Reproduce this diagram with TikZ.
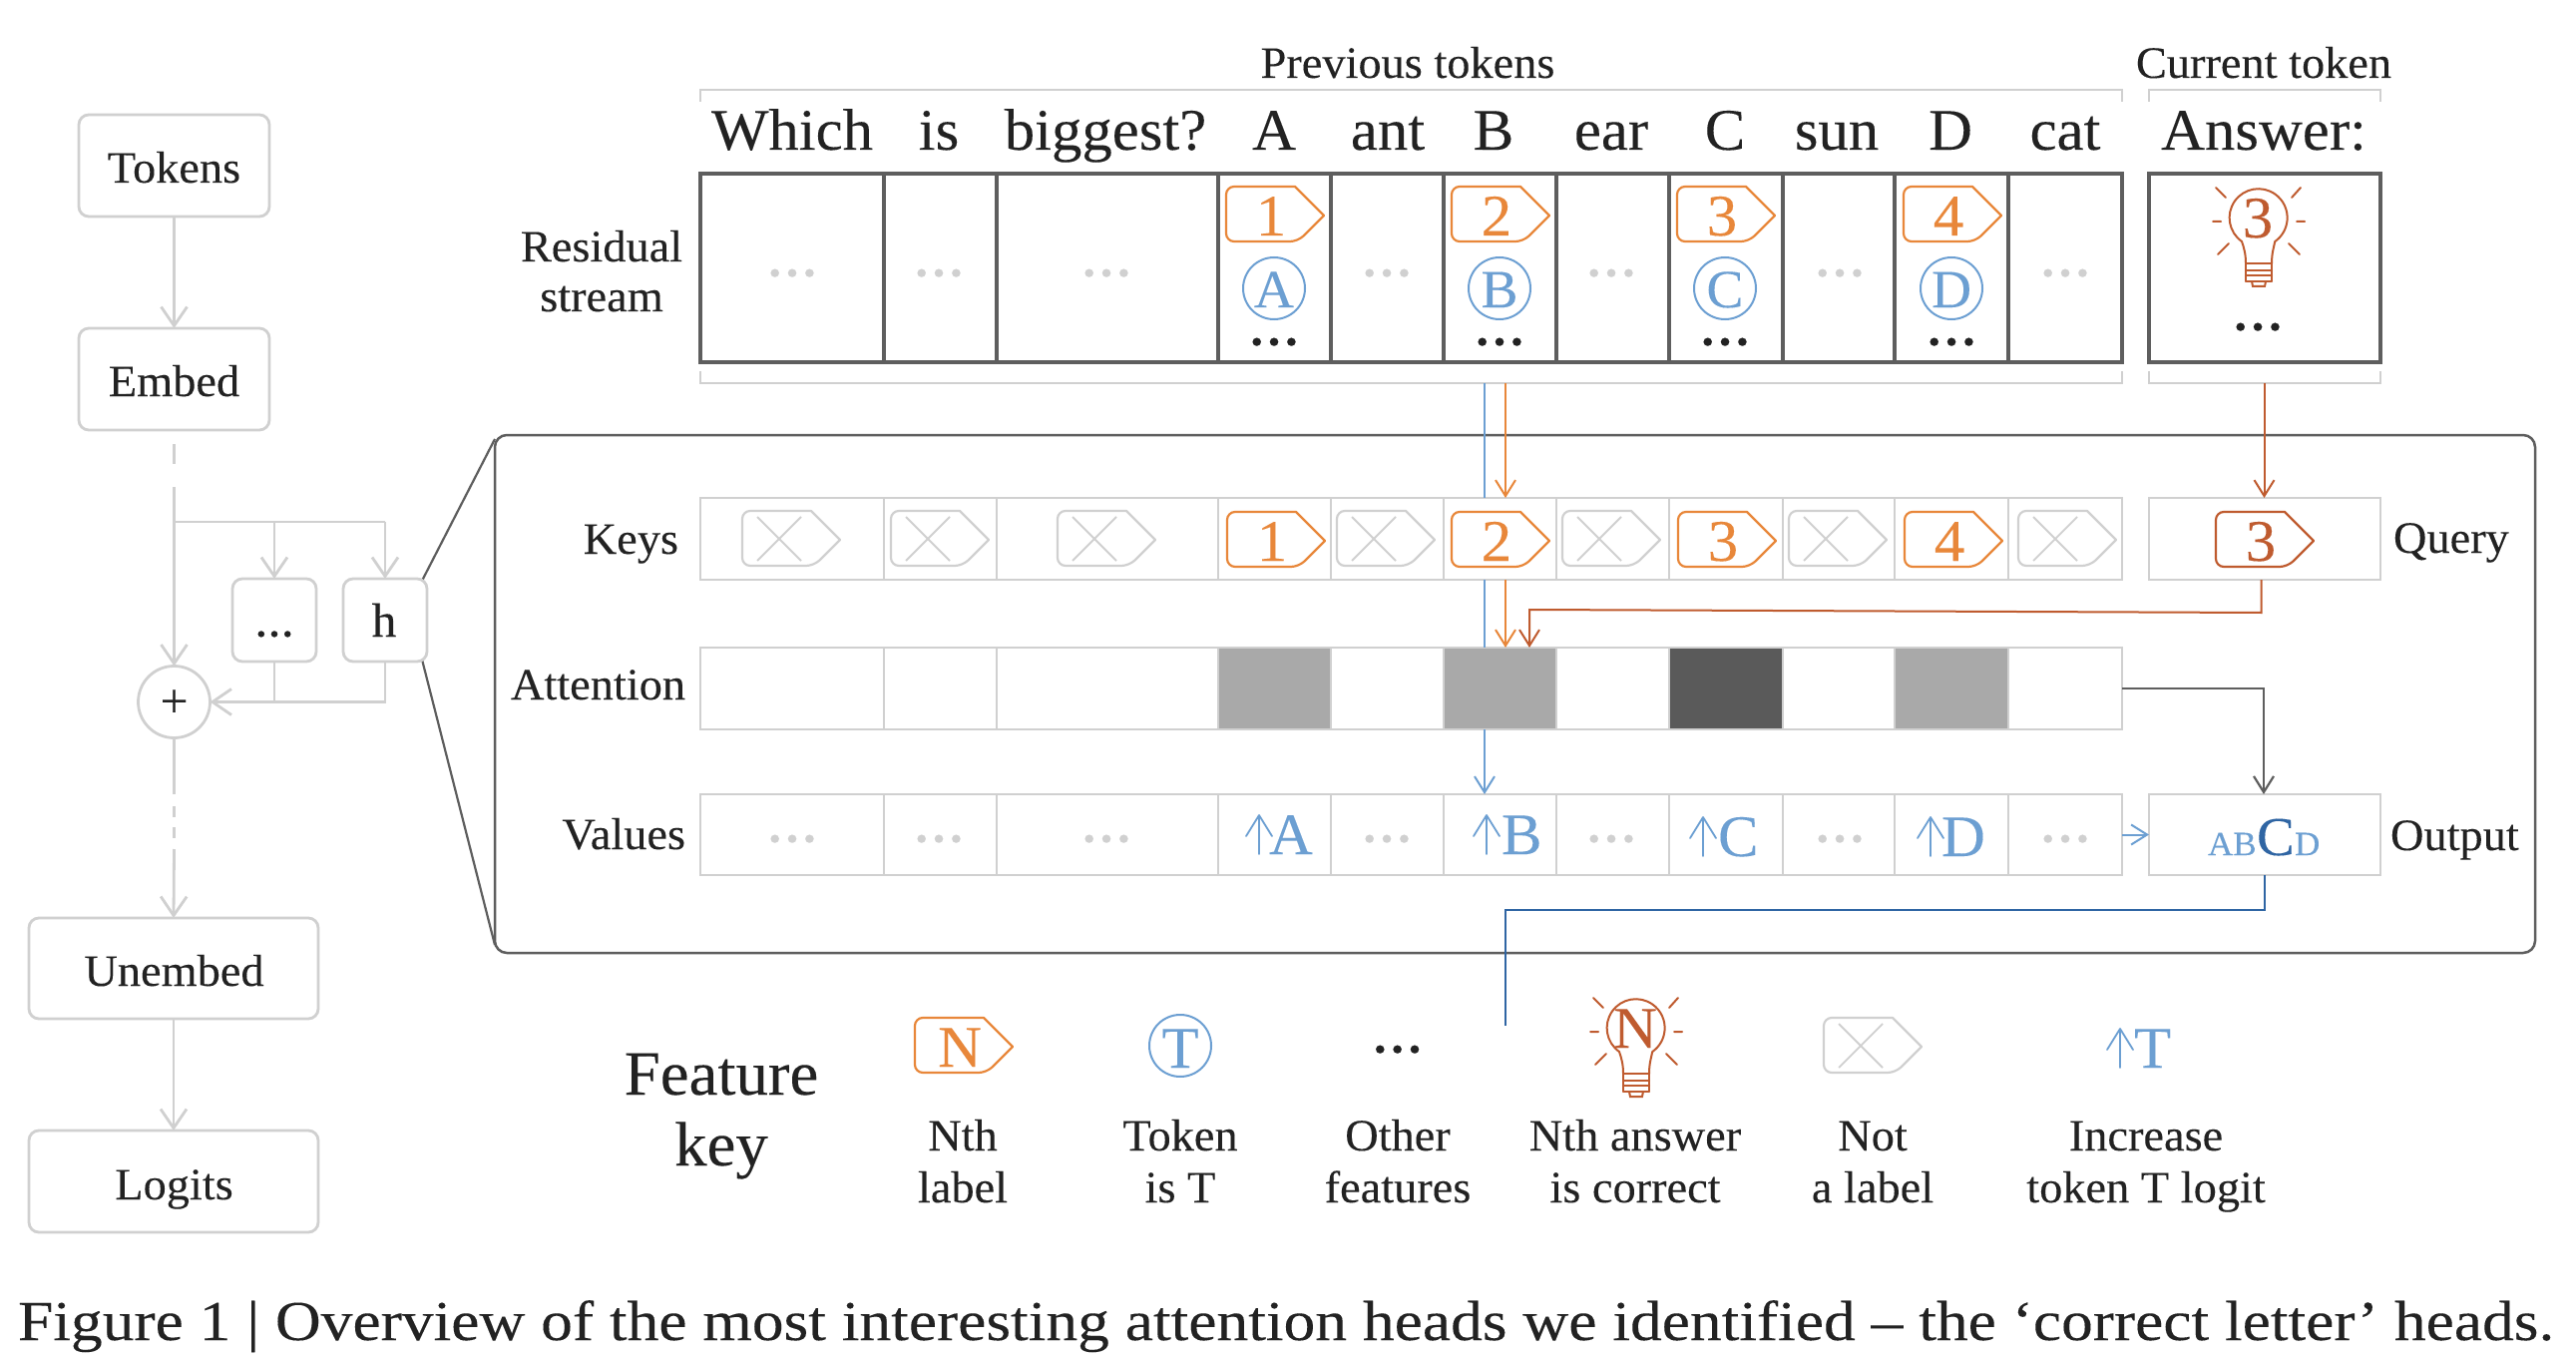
\documentclass[tikz,border=0pt]{standalone}
\usepackage{fontspec}
\setmainfont[FakeStretch=1.03,FakeBold=0.12]{Liberation Serif}
\newfontfamily\capfam[FakeStretch=1.122,FakeBold=0.12]{Liberation Serif}
\usetikzlibrary{arrows.meta,calc}
\definecolor{ink}{HTML}{222222}
\definecolor{lightg}{HTML}{D0D0D0}
\definecolor{darkg}{HTML}{5E5E5E}
\definecolor{orangeC}{HTML}{E8873A}
\definecolor{blueC}{HTML}{6C9FD2}
\definecolor{rustC}{HTML}{BF5B2F}
\definecolor{navyC}{HTML}{2F65A3}
\definecolor{attnmid}{HTML}{A9A9A9}
\definecolor{attndark}{HTML}{5A5A5A}
\tikzset{
  txt/.style={anchor=base,inner sep=0pt,outer sep=0pt,text=ink},
  bodyf/.style={font=\fontsize{22.5}{26}\selectfont},
  tokf/.style={font=\fontsize{29.5}{34}\selectfont},
  bigf/.style={font=\fontsize{31.5}{36}\selectfont},
  capf/.style={font=\capfam\fontsize{28.3}{34}\selectfont},
  lightcell/.style={draw=lightg,line width=1.4pt,inner sep=0pt,outer sep=0pt},
  darkcell/.style={draw=darkg,line width=1.6pt,inner sep=0pt,outer sep=0pt},
  layerbox/.style={draw=lightg,line width=1.4pt,rounded corners=5pt,inner sep=0pt,outer sep=0pt,fill=white},
  headL/.style={-{Straight Barb[length=9.5pt,width=13pt,line width=1.4pt]}},
  head/.style={-{Straight Barb[length=8pt,width=10pt]}},
  lg/.style={draw=lightg,line width=1.4pt},
  bl/.style={draw=blueC,line width=1pt},
  ora/.style={draw=orangeC,line width=1pt},
  rus/.style={draw=rustC,line width=1pt},
  nav/.style={draw=navyC,line width=1.1pt},
  dkl/.style={draw=darkg,line width=1.1pt},
  brk/.style={draw=lightg,line width=.9pt},
}
\newcommand{\cellbox}[6]{%
  \pgfmathsetmacro\cxx{(#2+#3)/2}\pgfmathsetmacro\cyy{(#4+#5)/2}%
  \node[#6,minimum width={(#3-#2)*0.5pt},minimum height={(#5-#4)*0.5pt}] (#1) at (\cxx,\cyy) {};}
\newcommand{\labtag}[5]{%
  \begin{scope}[shift={(#2,#3)}]
    \draw[line width=1.1pt,draw=#4,fill=white,line join=round,rounded corners=4pt] (69,0) -- (0,0) -- (0,55) -- (72,55) [sharp corners] -- (98,29) -- cycle;
    \node[txt,tokf,text=#4] (#1) at (45,49) {#5};
  \end{scope}}
\newcommand{\notag}[2]{%
  \begin{scope}[shift={(#1,#2)}]
    \draw[line width=1.1pt,draw=lightg,fill=white,line join=round,rounded corners=4pt] (69,0) -- (0,0) -- (0,55) -- (72,55) [sharp corners] -- (98,29) -- cycle;
    \draw[line width=.9pt,draw=lightg] (15,6) -- (59,50) (59,6) -- (15,50);
  \end{scope}}
\newcommand{\bulb}[4]{%
  \begin{scope}[shift={(#2,#3)},rustC,line width=1pt,line cap=round]
    \draw (-13,46) .. controls (-13,36) and (-15,30) .. (-17,24) arc[start angle=125,end angle=415,radius=29] .. controls (15,30) and (13,36) .. (13,46);
    \draw (-13,46) -- (13,46) (-13,53) -- (13,53) (-13,58) -- (13,58) (-13,64) -- (13,64) (-13,46) -- (-13,64) (13,46) -- (13,64);
    \draw (-7,64) -- (-6,69) -- (6,69) -- (7,64);
    \draw (-43,-30) -- (-33,-20) (42,-30) -- (33,-20) (-46,4) -- (-38,4) (38,4) -- (46,4) (-30,26) -- (-41,37) (30,26) -- (41,37);
    \node[txt,tokf,text=rustC] (#1) at (-1,20) {#4};
  \end{scope}}
\newcommand{\uparr}[5]{%
  \draw[line width=.9pt,draw=blueC,line cap=round,line join=round] (#2,#3) -- (#2,#3-39) (#2-13,#3-18) -- (#2,#3-39) -- (#2+13,#3-18);
  \node[txt,tokf,text=blueC,anchor=base west] (#1) at (#4,#3) {#5};}
\begin{document}
\begin{tikzpicture}[x=0.5pt,y=-0.5pt]
\useasboundingbox (0,0) rectangle (2582,1364);
\fill[white] (0,0) rectangle (2582,1364);

%--- big detail panel and its fan lines
\cellbox{panel}{496}{2541}{436}{955}{draw=darkg,line width=1.25pt,rounded corners=6pt,inner sep=0pt,outer sep=0pt,fill=white}
\coordinate (fanA) at (423,582);
\coordinate (fanB) at (423,661);
\coordinate (fanC) at (496,440);
\coordinate (fanD) at (496,947);
\draw[dkl] (fanA) -- (fanC);
\draw[dkl] (fanB) -- (fanD);

%--- left column
\cellbox{tokens}{79}{270}{115}{217}{layerbox}
\cellbox{embed}{79}{270}{329}{431}{layerbox}
\cellbox{unembed}{29}{319}{920}{1021}{layerbox}
\cellbox{logits}{29}{319}{1133}{1235}{layerbox}
\cellbox{dotsbox}{233}{317}{580}{663}{layerbox}
\cellbox{hbox}{344}{428}{580}{663}{layerbox}
\node[draw=lightg,line width=1.4pt,circle,minimum size=36pt,inner sep=0pt,outer sep=0pt] (plus) at (174.5,703.5) {};
\node[txt,bodyf] (tTokens) at (174.5,183) {Tokens};
\node[txt,bodyf] (tEmbed) at (174.5,397) {Embed};
\node[txt,bodyf] (tUnembed) at (174.5,988) {Unembed};
\node[txt,bodyf] (tLogits) at (174.5,1202) {Logits};
\node[txt,font=\fontsize{19}{22}\bfseries\selectfont] (tDots) at (275,638) {…};
\node[txt,font=\fontsize{24}{28}\selectfont] (tH) at (385,638) {h};
\node[txt,font=\fontsize{24}{28}\selectfont,anchor=center] (tPlus) at (174.5,705) {+};
\coordinate (dA) at (174.5,445);
\coordinate (dB) at (174.5,465);
\coordinate (dC) at (174.5,488);
\coordinate (jb) at (174.5,523);
\coordinate (dD) at (174.5,796);
\coordinate (dE) at (174.5,808);
\coordinate (dF) at (174.5,819);
\coordinate (dG) at (174.5,829);
\coordinate (dH) at (174.5,840);
\coordinate (dI) at (174.5,851);
\draw[lg,headL] (tokens) -- (embed);
\draw[lg] (dA) -- (dB);
\draw[lg,headL] (dC) -- (plus);
\draw[lg] (jb) -- (jb -| dotsbox.north) -- (jb -| hbox.north);
\draw[lg,headL] (jb -| dotsbox.north) -- (dotsbox.north);
\draw[lg,headL] (jb -| hbox.north) -- (hbox.north);
\draw[lg,headL] (hbox.south) |- (plus.east);
\draw[lg] (dotsbox.south) -- (dotsbox.south |- plus.east);
\draw[lg] (plus.south) -- (dD);
\draw[lg] (dE) -- (dF);
\draw[lg] (dG) -- (dH);
\draw[lg,headL] (dI) -- (unembed.north);
\draw[lg,headL] (unembed) -- (logits);

%--- top labels and brackets
\node[txt,bodyf] (tPrev) at (1411,78) {Previous tokens};
\node[txt,bodyf] (tCurr) at (2269,78) {Current token};
\draw[brk] (702,102) -- (702,90) -- (2127,90) -- (2127,102);
\draw[brk] (2154,102) -- (2154,90) -- (2386,90) -- (2386,102);
\draw[brk] (702,372) -- (702,384) -- (2127,384) -- (2127,372);
\draw[brk] (2154,372) -- (2154,384) -- (2386,384) -- (2386,372);

%--- tokens
\foreach \n/\x/\s in {1/794/Which,2/941/is,3/1108/biggest?,4/1277/A,5/1391/ant,6/1497/B,7/1615/ear,8/1729/C,9/1841/sun,10/1955/D,11/2070/cat,12/2269/Answer:}{
  \node[txt,tokf] (tok\n) at (\x,150) {\s};
}

%--- row names
\node[txt,bodyf] (tRes) at (603,262) {Residual};
\node[txt,bodyf] (tStr) at (603,312) {stream};
\node[txt,bodyf,anchor=base east] (tKeys) at (680,555) {Keys};
\node[txt,bodyf,anchor=base east] (tAttn) at (687,701) {Attention};
\node[txt,bodyf,anchor=base east] (tVals) at (687,851) {Values};
\node[txt,bodyf,anchor=base west] (tQuery) at (2399,554) {Query};
\node[txt,bodyf,anchor=base west] (tOut) at (2396,852) {Output};

%--- rows
\foreach \n/\a/\b in {1/702/886,2/886/999,3/999/1221,4/1221/1334,5/1334/1447,6/1447/1560,7/1560/1673,8/1673/1787,9/1787/1899,10/1899/2013,11/2013/2127}{
  \cellbox{k\n}{\a}{\b}{499}{581}{lightcell}
  \cellbox{v\n}{\a}{\b}{796}{877}{lightcell}
}
\foreach \n/\a/\b/\f in {1/702/886/white,2/886/999/white,3/999/1221/white,4/1221/1334/attnmid,5/1334/1447/white,6/1447/1560/attnmid,7/1560/1673/white,8/1673/1787/attndark,9/1787/1899/white,10/1899/2013/attnmid,11/2013/2127/white}{
  \cellbox{a\n}{\a}{\b}{649}{731}{lightcell,fill=\f}
}
\foreach \n/\a/\b in {1/702/886,2/886/999,3/999/1221,4/1221/1334,5/1334/1447,6/1447/1560,7/1560/1673,8/1673/1787,9/1787/1899,10/1899/2013,11/2013/2127}{
  \cellbox{r\n}{\a}{\b}{174}{363}{darkcell}
}
\cellbox{rcur}{2154}{2386}{174}{363}{darkcell}
\cellbox{query}{2154}{2386}{499}{581}{lightcell}
\cellbox{output}{2154}{2386}{796}{877}{lightcell}

%--- dots
\tikzset{dotf/.style={txt,font=\fontsize{25}{28}\bfseries\selectfont}}
\foreach \n/\x in {1/794,2/941,3/1109,5/1390,7/1615,9/1844,11/2070}{
  \node[dotf,text=lightg] (rd\n) at (\x,277) {…};
  \node[dotf,text=lightg] (vd\n) at (\x,844) {…};
}
\foreach \n/\x in {4/1277,6/1503,8/1729,10/1956}{
  \node[dotf] (rb\n) at (\x,346) {…};
}
\node[dotf] (rbc) at (2263,331) {…};

%--- residual tags
\labtag{ra}{1229}{187}{orangeC}{1}
\labtag{rb}{1455}{187}{orangeC}{2}
\labtag{rc}{1681}{187}{orangeC}{3}
\labtag{rd}{1908}{187}{orangeC}{4}
\foreach \n/\x/\s in {A/1277/A,B/1503/B,C/1729/C,D/1956/D}{
  \node[circle,draw=blueC,line width=1pt,minimum size=31pt,inner sep=0pt,outer sep=0pt] (circ\n) at (\x,289) {};
  \node[txt,text=blueC,font=\fontsize{27}{32}\selectfont] (let\n) at (\x,308) {\s};
}
\bulb{bulbc}{2264}{218}{3}

%--- key tags
\notag{744}{512}
\notag{893}{512}
\notag{1060}{512}
\notag{1340}{512}
\notag{1566}{512}
\notag{1793}{512}
\notag{2023}{512}
\labtag{ka}{1230}{513}{orangeC}{1}
\labtag{kb}{1455}{513}{orangeC}{2}
\labtag{kc}{1682}{513}{orangeC}{3}
\labtag{kd}{1909}{513}{orangeC}{4}
\labtag{kq}{2221}{513}{rustC}{3}

%--- values
\uparr{vA}{1262}{856}{1272}{A}
\uparr{vB}{1490}{856}{1505}{B}
\uparr{vC}{1707}{858}{1722}{C}
\uparr{vD}{1935}{858}{1946}{D}
\node[txt,text=blueC,font=\fontsize{17}{22}\selectfont,anchor=base west] (oAB) at (2213,857) {AB};
\node[txt,text=navyC,font=\fontsize{27.5}{34}\selectfont,anchor=base west] (oC) at (2262,857) {C};
\node[txt,text=blueC,font=\fontsize{17}{22}\selectfont,anchor=base west] (oD) at (2300,857) {D};

%--- connectors in the panel
\coordinate (blueS) at (1488,384);
\coordinate (oraS) at (1509,384);
\coordinate (rustS) at (2269.5,384);
\coordinate (rustX) at (2266.5,614);
\coordinate (rustY) at (1533,611);
\coordinate (greyX) at (2269,690);
\coordinate (navX) at (2270,912);
\coordinate (navY) at (1509,912);
\coordinate (navE) at (1509,1028);
\draw[bl] (blueS) -- (blueS |- k6.north);
\draw[bl] (blueS |- k6.south) -- (blueS |- a6.north);
\draw[bl,head] (blueS |- a6.south) -- (blueS |- v6.north);
\draw[ora,head] (oraS) -- (oraS |- k6.north);
\draw[ora,head] (oraS |- k6.south) -- (oraS |- a6.north);
\draw[rus,head] (rustS) -- (rustS |- query.north);
\draw[rus,head] (rustX |- query.south) -- (rustX) -- (rustY) -- (rustY |- a6.north);
\draw[dkl,head] (a11.east |- greyX) -- (greyX) -- (greyX |- output.north);
\draw[bl,head] (v11.east) -- (output.west);
\draw[nav] (navX |- output.south) -- (navX) -- (navY) -- (navE);

%--- feature key
\node[txt,bigf] (fk1) at (723,1097) {Feature};
\node[txt,bigf] (fk2) at (723,1168) {key};
\labtag{kN}{917}{1020}{orangeC}{N}
\node[circle,draw=blueC,line width=1pt,minimum size=31pt,inner sep=0pt,outer sep=0pt] (kT) at (1183,1048) {};
\node[txt,text=blueC,font=\fontsize{29.5}{34}\selectfont] (kTl) at (1183,1070) {T};
\node[dotf] (kdots) at (1400.6,1055) {…};
\bulb{kB}{1640}{1030}{N}
\notag{1828}{1020}
\uparr{kU}{2125}{1070}{2139}{T}
\foreach \n/\x/\a/\b in {1/965/Nth/label,2/1183/Token/is T,3/1401/Other/features,4/1639/Nth answer/is correct,5/1877/Not/a label,6/2151/Increase/token T logit}{
  \node[txt,bodyf] (ka\n) at (\x,1153) {\a};
  \node[txt,bodyf] (kb\n) at (\x,1205) {\b};
}

%--- caption
\node[txt,capf,anchor=base west] (cap) at (18,1343) {Figure 1 | Overview of the most interesting attention heads we identified – the ‘correct letter’ heads.};
\end{tikzpicture}
\end{document}
